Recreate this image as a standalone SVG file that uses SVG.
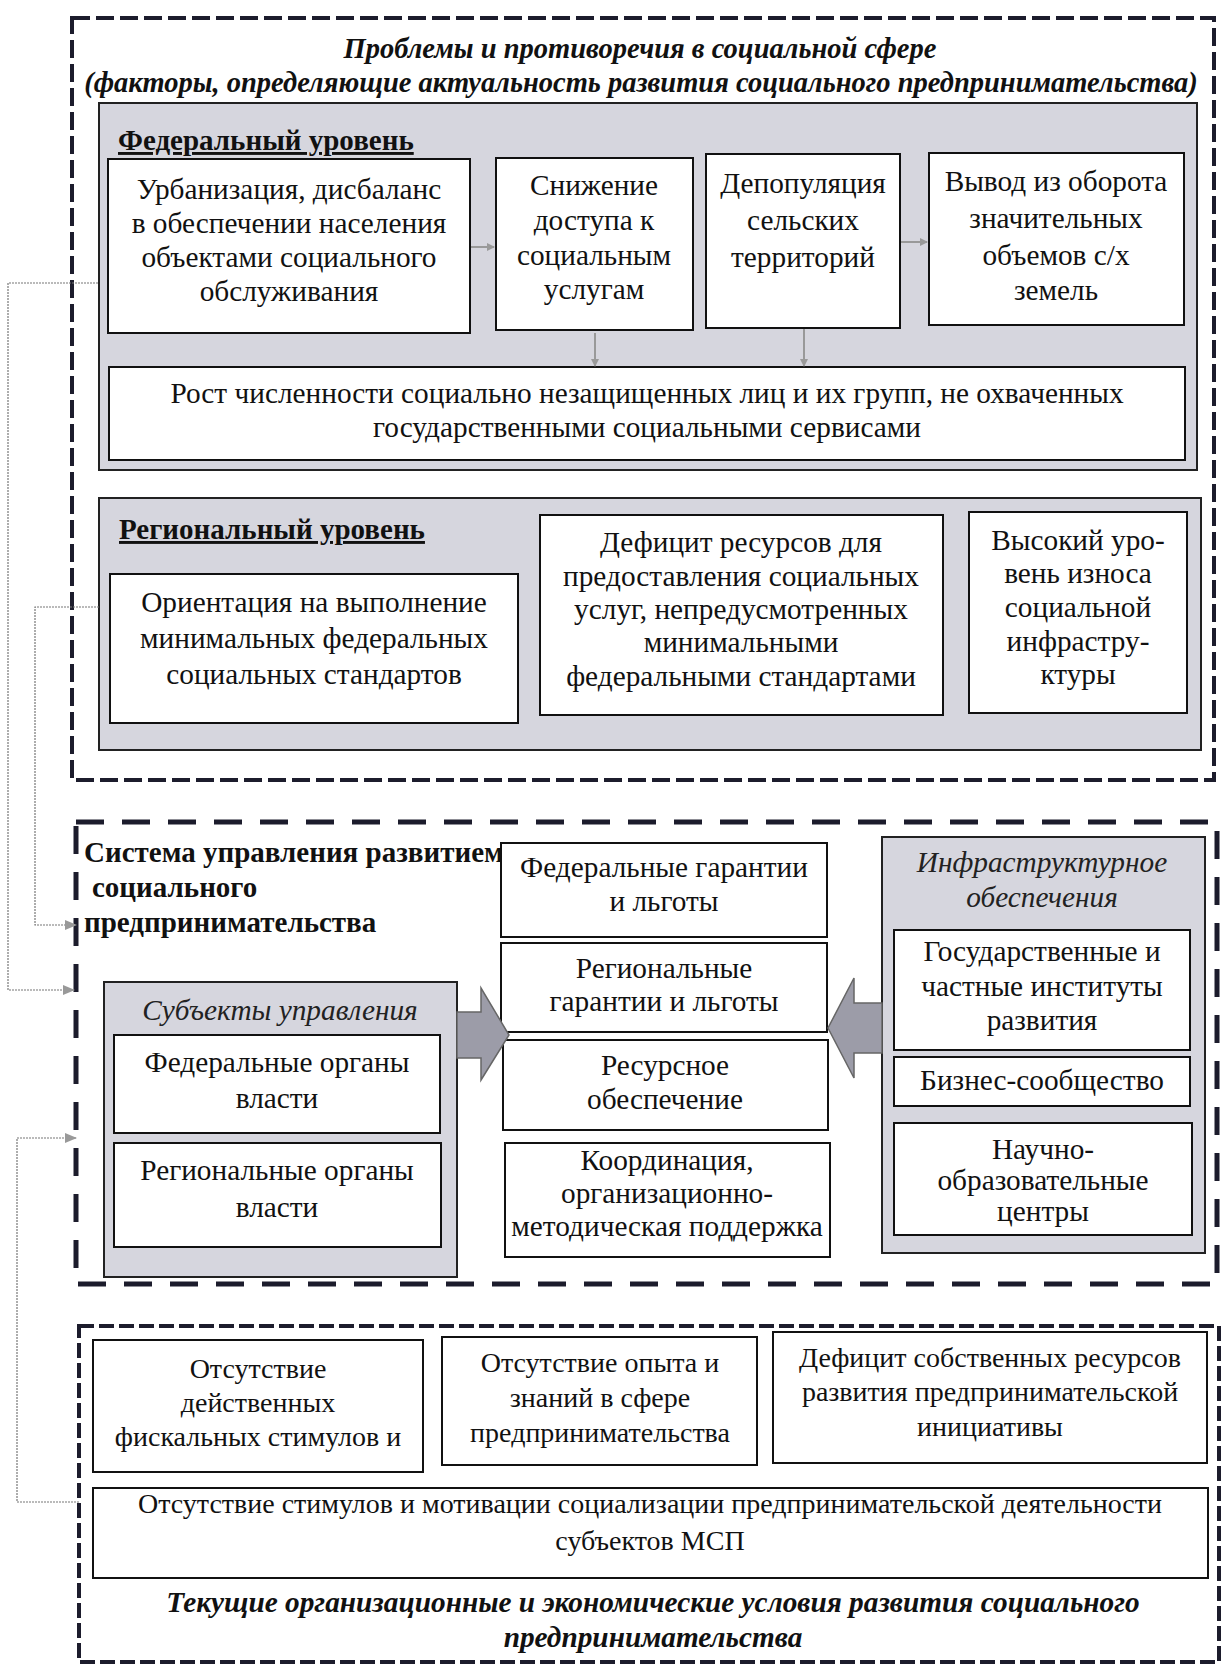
<svg xmlns="http://www.w3.org/2000/svg" width="1231" height="1670" viewBox="0 0 1231 1670">
<style>
.bg{fill:#ffffff}
.d1{fill:none;stroke:#1c1c2c;stroke-width:4;stroke-dasharray:18 6}
.d2{fill:none;stroke:#1c1c2c;stroke-width:5;stroke-dasharray:28 18}
.d3{fill:none;stroke:#1c1c2c;stroke-width:4;stroke-dasharray:15 5}
.panel{fill:#d6d6de;stroke:#222;stroke-width:2}
.box{fill:#ffffff;stroke:#111;stroke-width:2}
.t{font-family:"Liberation Serif","DejaVu Serif",serif;font-size:29.3px;text-anchor:middle;fill:#111}
.t3{font-size:28px}
.hd{font-family:"Liberation Serif","DejaVu Serif",serif;font-size:29px;font-weight:bold;fill:#111}
.ul{text-decoration:underline}
.it{font-family:"Liberation Serif","DejaVu Serif",serif;font-size:29.3px;font-style:italic;text-anchor:middle;fill:#222}
.bi{font-family:"Liberation Serif","DejaVu Serif",serif;font-size:28.5px;font-style:italic;font-weight:bold;text-anchor:middle;fill:#111}
.bi3{font-size:29.3px}
.con{fill:none;stroke:#777;stroke-width:1.2;stroke-dasharray:2 1}
.sm{fill:none;stroke:#999;stroke-width:2}
.big{fill:#9c9ca8;stroke:#666;stroke-width:1.5}
</style>
<defs>
<marker id="ah" markerWidth="8" markerHeight="8" refX="7" refY="4" orient="auto" markerUnits="userSpaceOnUse">
<path d="M0,0 L8,4 L0,8 z" fill="#999"/>
</marker>
<marker id="ah2" markerWidth="12" markerHeight="10" refX="11" refY="5" orient="auto" markerUnits="userSpaceOnUse">
<path d="M0,0 L12,5 L0,10 z" fill="#999"/>
</marker>
</defs>
<rect class="bg" x="0" y="0" width="1231" height="1670"/>

<!-- Section 1 -->
<g id="section1">
<rect class="d1" x="72" y="18" width="1142" height="762"/>
<text class="bi" x="640" y="58">Проблемы и противоречия в социальной сфере</text>
<text class="bi" x="641" y="92">(факторы, определяющие актуальность развития социального предпринимательства)</text>
</g>

<g id="federal-panel">
<rect class="panel" x="99" y="103" width="1098" height="367"/>
<text class="hd ul" x="118" y="150">Федеральный уровень</text>
</g>

<g id="n-urban">
<rect class="box" x="108" y="159" width="362" height="174"/>
<text class="t" x="289" y="199">Урбанизация, дисбаланс</text>
<text class="t" x="289" y="233">в обеспечении населения</text>
<text class="t" x="289" y="267">объектами социального</text>
<text class="t" x="289" y="301">обслуживания</text>
</g>
<g id="n-access">
<rect class="box" x="496" y="158" width="197" height="172"/>
<text class="t" x="594" y="195">Снижение</text>
<text class="t" x="594" y="230">доступа к</text>
<text class="t" x="594" y="265">социальным</text>
<text class="t" x="594" y="299">услугам</text>
</g>
<g id="n-depop">
<rect class="box" x="706" y="154" width="194" height="174"/>
<text class="t" x="803" y="193">Депопуляция</text>
<text class="t" x="803" y="230">сельских</text>
<text class="t" x="803" y="267">территорий</text>
</g>
<g id="n-land">
<rect class="box" x="929" y="153" width="255" height="172"/>
<text class="t" x="1056" y="191">Вывод из оборота</text>
<text class="t" x="1056" y="228">значительных</text>
<text class="t" x="1056" y="265">объемов с/х</text>
<text class="t" x="1056" y="300">земель</text>
</g>
<g id="n-growth">
<rect class="box" x="109" y="367" width="1076" height="93"/>
<text class="t" x="647" y="403">Рост численности социально незащищенных лиц и их групп, не охваченных</text>
<text class="t" x="647" y="437">государственными социальными сервисами</text>
</g>

<g id="regional-panel">
<rect class="panel" x="99" y="498" width="1102" height="252"/>
<text class="hd ul" x="119" y="539">Региональный уровень</text>
</g>
<g id="n-orient">
<rect class="box" x="110" y="574" width="408" height="149"/>
<text class="t" x="314" y="612">Ориентация на выполнение</text>
<text class="t" x="314" y="648">минимальных федеральных</text>
<text class="t" x="314" y="684">социальных стандартов</text>
</g>
<g id="n-deficit">
<rect class="box" x="540" y="515" width="403" height="200"/>
<text class="t" x="741" y="552">Дефицит ресурсов для</text>
<text class="t" x="741" y="586">предоставления социальных</text>
<text class="t" x="741" y="619">услуг, непредусмотренных</text>
<text class="t" x="741" y="652">минимальными</text>
<text class="t" x="741" y="686">федеральными стандартами</text>
</g>
<g id="n-wear">
<rect class="box" x="969" y="512" width="218" height="201"/>
<text class="t" x="1078" y="550">Высокий уро-</text>
<text class="t" x="1078" y="583">вень износа</text>
<text class="t" x="1078" y="617">социальной</text>
<text class="t" x="1078" y="651">инфрастру-</text>
<text class="t" x="1078" y="684">ктуры</text>
</g>

<!-- Section 2 -->
<g id="section2">
<rect class="d2" x="76" y="822" width="1141" height="462"/>
<text class="hd" x="84" y="862">Система управления развитием</text>
<text class="hd" x="92" y="897">социального</text>
<text class="hd" x="84" y="932">предпринимательства</text>
</g>
<g id="n-fedguar">
<rect class="box" x="501" y="843" width="326" height="94"/>
<text class="t" x="664" y="877">Федеральные гарантии</text>
<text class="t" x="664" y="911">и льготы</text>
</g>
<g id="n-regguar">
<rect class="box" x="501" y="943" width="326" height="89"/>
<text class="t" x="664" y="978">Региональные</text>
<text class="t" x="664" y="1011">гарантии и льготы</text>
</g>
<g id="n-resource">
<rect class="box" x="503" y="1040" width="325" height="90"/>
<text class="t" x="665" y="1075">Ресурсное</text>
<text class="t" x="665" y="1109">обеспечение</text>
</g>
<g id="n-coord">
<rect class="box" x="505" y="1143" width="325" height="114"/>
<text class="t" x="667" y="1170">Координация,</text>
<text class="t" x="667" y="1203">организационно-</text>
<text class="t" x="667" y="1236">методическая поддержка</text>
</g>

<g id="subjects-panel">
<rect class="panel" x="104" y="982" width="353" height="295"/>
<text class="it" x="280" y="1020">Субъекты управления</text>
</g>
<g id="n-fedorg">
<rect class="box" x="114" y="1035" width="326" height="98"/>
<text class="t" x="277" y="1072">Федеральные органы</text>
<text class="t" x="277" y="1108">власти</text>
</g>
<g id="n-regorg">
<rect class="box" x="114" y="1143" width="327" height="104"/>
<text class="t" x="277" y="1180">Региональные органы</text>
<text class="t" x="277" y="1217">власти</text>
</g>

<g id="infra-panel">
<rect class="panel" x="882" y="837" width="323" height="416"/>
<text class="it" x="1042" y="872">Инфраструктурное</text>
<text class="it" x="1042" y="907">обеспечения</text>
</g>
<g id="n-gov">
<rect class="box" x="894" y="930" width="296" height="120"/>
<text class="t" x="1042" y="961">Государственные и</text>
<text class="t" x="1042" y="996">частные институты</text>
<text class="t" x="1042" y="1030">развития</text>
</g>
<g id="n-business">
<rect class="box" x="894" y="1057" width="296" height="49"/>
<text class="t" x="1042" y="1090">Бизнес-сообщество</text>
</g>
<g id="n-science">
<rect class="box" x="894" y="1123" width="298" height="112"/>
<text class="t" x="1043" y="1159">Научно-</text>
<text class="t" x="1043" y="1190">образовательные</text>
<text class="t" x="1043" y="1221">центры</text>
</g>

<!-- Section 3 -->
<g id="section3">
<rect class="d3" x="79" y="1326" width="1140" height="336"/>
<text class="bi bi3" x="653" y="1612">Текущие организационные и экономические условия развития социального</text>
<text class="bi bi3" x="653" y="1647">предпринимательства</text>
</g>
<g id="n-fiscal">
<rect class="box" x="93" y="1340" width="330" height="132"/>
<text class="t t3" x="258" y="1378">Отсутствие</text>
<text class="t t3" x="258" y="1412">действенных</text>
<text class="t t3" x="258" y="1446">фискальных стимулов и</text>
</g>
<g id="n-experience">
<rect class="box" x="442" y="1337" width="315" height="128"/>
<text class="t t3" x="600" y="1372">Отсутствие опыта и</text>
<text class="t t3" x="600" y="1407">знаний в сфере</text>
<text class="t t3" x="600" y="1442">предпринимательства</text>
</g>
<g id="n-ownres">
<rect class="box" x="773" y="1332" width="434" height="131"/>
<text class="t t3" x="990" y="1367">Дефицит собственных ресурсов</text>
<text class="t t3" x="990" y="1401">развития предпринимательской</text>
<text class="t t3" x="990" y="1436">инициативы</text>
</g>
<g id="n-motiv">
<rect class="box" x="93" y="1488" width="1115" height="90"/>
<text class="t t3" x="650" y="1513">Отсутствие стимулов и мотивации социализации предпринимательской деятельности</text>
<text class="t t3" x="650" y="1550">субъектов МСП</text>
</g>

<!-- Connectors -->
<g id="connectors">
<line class="sm" x1="471" y1="247" x2="494" y2="247" marker-end="url(#ah)"/>
<line class="sm" x1="901" y1="242" x2="927" y2="242" marker-end="url(#ah)"/>
<line class="sm" x1="595" y1="333" x2="595" y2="366" marker-end="url(#ah)"/>
<line class="sm" x1="804" y1="329" x2="804" y2="366" marker-end="url(#ah)"/>
<polyline class="con" points="98,283 8,283 8,990 74,990" marker-end="url(#ah2)"/>
<polyline class="con" points="99,607 35,607 35,925 76,925" marker-end="url(#ah2)"/>
<polyline class="con" points="79,1502 17,1502 17,1138 76,1138" marker-end="url(#ah2)"/>
<path class="big" d="M457,1012 L481,1012 L481,988 L509,1035 L481,1080 L481,1058 L457,1058 z"/>
<path class="big" d="M882,1003 L854,1003 L854,978 L828,1028 L854,1078 L854,1053 L882,1053 z"/>
</g>
</svg>
